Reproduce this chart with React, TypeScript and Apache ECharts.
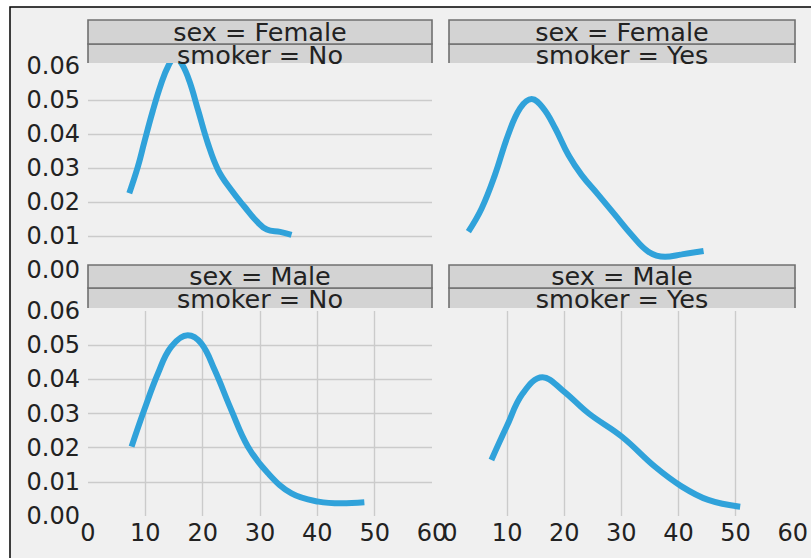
import React, { useEffect, useRef } from "react";
import * as echarts from "echarts";

// ---- data ----
const femaleNoX = [7.2, 8.7, 9.85, 11.3, 12.7, 14.0, 15.2, 16.4, 17.7, 19.2, 20.9, 22.7, 25.0, 27.3, 29.5, 31.2, 33.5, 35.5];
const femaleNoY = [0.0226, 0.0304, 0.0378, 0.0468, 0.0545, 0.0600, 0.0625, 0.0605, 0.0555, 0.047, 0.0373, 0.0294, 0.0235, 0.0186, 0.0142, 0.0119, 0.0112, 0.0103];

const femaleYesX = [3.2, 5.5, 7.8, 10.1, 12.2, 14.2, 16.2, 18.3, 20.6, 22.9, 25.8, 28.7, 31.6, 34.5, 37.4, 40.3, 44.1];
const femaleYesY = [0.0113, 0.0181, 0.0279, 0.0397, 0.0476, 0.0503, 0.0476, 0.0417, 0.0338, 0.0279, 0.0221, 0.0162, 0.0103, 0.0054, 0.0039, 0.0046, 0.0056];

const maleNoX = [7.6, 9.8, 12.2, 14.5, 17.4, 19.75, 22.1, 25.0, 27.9, 31.4, 35.5, 40.2, 44.2, 48.2];
const maleNoY = [0.0203, 0.031, 0.0417, 0.0495, 0.0529, 0.0505, 0.0427, 0.031, 0.0203, 0.0125, 0.0066, 0.0042, 0.0037, 0.004];

const maleYesX = [7.25, 9.9, 12.75, 16.2, 19.7, 24.3, 30.1, 35.9, 40.6, 45.2, 50.8];
const maleYesY = [0.0164, 0.0261, 0.0359, 0.0406, 0.0368, 0.030, 0.0232, 0.0144, 0.0086, 0.0047, 0.0027];

const sexTitles = ["sex = Female", "sex = Female", "sex = Male", "sex = Male"];
const smokerTitles = ["smoker = No", "smoker = Yes", "smoker = No", "smoker = Yes"];

const X_MIN = 0, X_MAX = 60, X_STEP = 10;
const Y_MIN = 0, Y_MAX = 0.06, Y_STEP = 0.01;

const FONT = "DejaVu Sans";
const LINE_COLOR = "#30a2da";
const GRID_COLOR = "#cbcbcb";
const TEXT_COLOR = "#222222";

const pairs = (xs: number[], ys: number[]) => xs.map((x, i) => [x, ys[i]]);

export default function App() {
  const ref = useRef<HTMLDivElement>(null);
  useEffect(() => {
    if (!ref.current) return;
    const chart = echarts.init(ref.current, null, { renderer: "svg" });

    const grids = [
      { left: 88, top: 66, width: 344, height: 204 },
      { left: 450, top: 66, width: 345, height: 204 },
      { left: 88, top: 311, width: 344, height: 205 },
      { left: 450, top: 311, width: 345, height: 205 },
    ];
    const showYLabel = [true, false, true, false];
    const showXLabel = [false, false, true, true];
    const showYGrid = [true, false, true, false];
    const showXGrid = [false, false, true, true];
    const seriesData = [
      pairs(femaleNoX, femaleNoY),
      pairs(femaleYesX, femaleYesY),
      pairs(maleNoX, maleNoY),
      pairs(maleYesX, maleYesY),
    ];

    const stripTop = [20, 20, 265, 265];
    const stripMid = [44, 44, 288, 288];
    const stripBot = [63, 63, 308, 308];
    const stripLeft = [88, 449, 88, 449];
    const stripRight = [432, 795, 432, 795];

    const graphics: any[] = [
      {
        type: "rect",
        shape: { x: 10, y: 7, width: 820, height: 570 },
        style: { fill: "#f0f0f0", stroke: "#000000", lineWidth: 1.5 },
        z: -10,
        silent: true,
      },
    ];
    for (let i = 0; i < 4; i++) {
      const l = stripLeft[i], r = stripRight[i];
      graphics.push({
        type: "rect",
        shape: { x: l, y: stripMid[i], width: r - l, height: stripBot[i] - stripMid[i] },
        style: { fill: "#d3d3d3" },
        z: 100,
      });
      graphics.push({
        type: "polyline",
        shape: { points: [[l, stripBot[i]], [l, stripMid[i]], [r, stripMid[i]], [r, stripBot[i]]] },
        style: { stroke: "#707070", lineWidth: 1.6, fill: null },
        z: 101,
      });
      graphics.push({
        type: "rect",
        shape: { x: l, y: stripTop[i], width: r - l, height: stripMid[i] - stripTop[i] },
        style: { fill: "#d3d3d3", stroke: "#707070", lineWidth: 1.6 },
        z: 101,
      });
      graphics.push({
        type: "text",
        x: (l + r) / 2,
        y: (stripTop[i] + stripMid[i]) / 2 - 0.5,
        style: {
          text: sexTitles[i],
          fill: TEXT_COLOR,
          font: `25.5px "${FONT}"`,
          align: "center",
          verticalAlign: "middle",
        },
        z: 102,
      });
      graphics.push({
        type: "text",
        x: (l + r) / 2,
        y: (stripMid[i] + stripBot[i]) / 2 + 1,
        style: {
          text: smokerTitles[i],
          fill: TEXT_COLOR,
          font: `25.5px "${FONT}"`,
          align: "center",
          verticalAlign: "middle",
        },
        z: 102,
      });
    }

    const option: any = {
      animation: false,
      backgroundColor: "#ffffff",
      grid: grids,
      xAxis: grids.map((_, i) => ({
        type: "value",
        gridIndex: i,
        min: X_MIN,
        max: X_MAX,
        interval: X_STEP,
        axisLine: { show: false },
        axisTick: { show: false },
        axisLabel: {
          show: showXLabel[i],
          color: TEXT_COLOR,
          fontFamily: FONT,
          fontSize: 24,
          margin: 5,
          showMinLabel: true,
          showMaxLabel: true,
        },
        splitLine: {
          show: showXGrid[i],
          showMinLine: false,
          showMaxLine: false,
          lineStyle: { color: GRID_COLOR, width: 1.4 },
        },
      })),
      yAxis: grids.map((_, i) => ({
        type: "value",
        gridIndex: i,
        min: Y_MIN,
        max: Y_MAX,
        interval: Y_STEP,
        axisLine: { show: false },
        axisTick: { show: false },
        axisLabel: {
          show: showYLabel[i],
          color: TEXT_COLOR,
          fontFamily: FONT,
          fontSize: 24,
          margin: 8,
          showMinLabel: true,
          showMaxLabel: true,
          formatter: (v: number) => v.toFixed(2),
        },
        splitLine: {
          show: showYGrid[i],
          showMinLine: false,
          showMaxLine: false,
          lineStyle: { color: GRID_COLOR, width: 1.4 },
        },
      })),
      series: seriesData.map((d, i) => ({
        type: "line",
        xAxisIndex: i,
        yAxisIndex: i,
        data: d,
        smooth: 0.4,
        symbol: "none",
        clip: true,
        lineStyle: { color: LINE_COLOR, width: 6, cap: "butt" },
        z: 5,
      })),
      graphic: graphics,
    };
    chart.setOption(option);
    return () => chart.dispose();
  }, []);

  return (
    <div
      ref={ref}
      style={{ position: "fixed", left: 0, top: 0, width: 811, height: 558 }}
    />
  );
}
